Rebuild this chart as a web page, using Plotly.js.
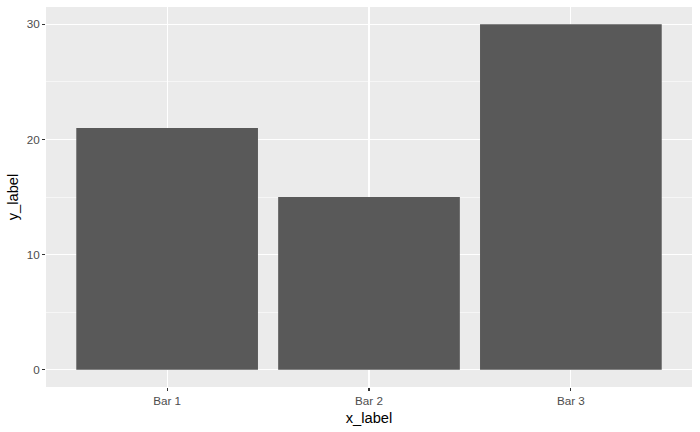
<!DOCTYPE html>
<html><head><meta charset="utf-8">
<script src="https://cdn.plot.ly/plotly-3.0.1.min.js"></script>
<style>html,body{margin:0;padding:0;background:#fff}#chart{width:700px;height:432px}</style>
</head><body><div id="chart"></div>
<script>
const categories = ["Bar 1", "Bar 2", "Bar 3"];
const values = [21, 15, 30];
const yTicks = [0, 10, 20, 30];

const trace = {
  type: "bar", x: categories, y: values, width: 0.9,
  marker: {color: "#595959", line: {width: 0}},
  hoverinfo: "skip"
};
const tickFont = {family: "Liberation Sans, Arial, sans-serif", size: 11.7, color: "#4D4D4D"};
const titleFont = {family: "Liberation Sans, Arial, sans-serif", size: 14.7, color: "#000000"};
const layout = {
  width: 700, height: 432,
  margin: {l: 46, r: 8, t: 7, b: 45},
  paper_bgcolor: "#FFFFFF", plot_bgcolor: "#EBEBEB",
  showlegend: false,
  xaxis: {
    type: "category", range: [-0.6, 2.6],
    showgrid: true, gridcolor: "#FFFFFF", gridwidth: 1.07,
    zeroline: false, showline: false,
    ticks: "outside", ticklen: 3, tickwidth: 1.07, tickcolor: "#333333",
    tickfont: tickFont,
    title: {text: "x_label", font: titleFont, standoff: 6}
  },
  yaxis: {
    range: [-1.5, 31.5],
    tickvals: yTicks, ticktext: yTicks.map(String),
    showgrid: true, gridcolor: "#FFFFFF", gridwidth: 1.07,
    minor: {tickvals: [5, 15, 25], showgrid: true, gridcolor: "#FFFFFF", gridwidth: 0.53, ticks: ""},
    zeroline: false, showline: false,
    ticks: "outside", ticklen: 3, tickwidth: 1.07, tickcolor: "#333333",
    tickfont: tickFont,
    title: {text: "y_label", font: titleFont, standoff: 4}
  }
};
Plotly.newPlot("chart", [trace], layout, {displayModeBar: false, staticPlot: true});
</script></body></html>
